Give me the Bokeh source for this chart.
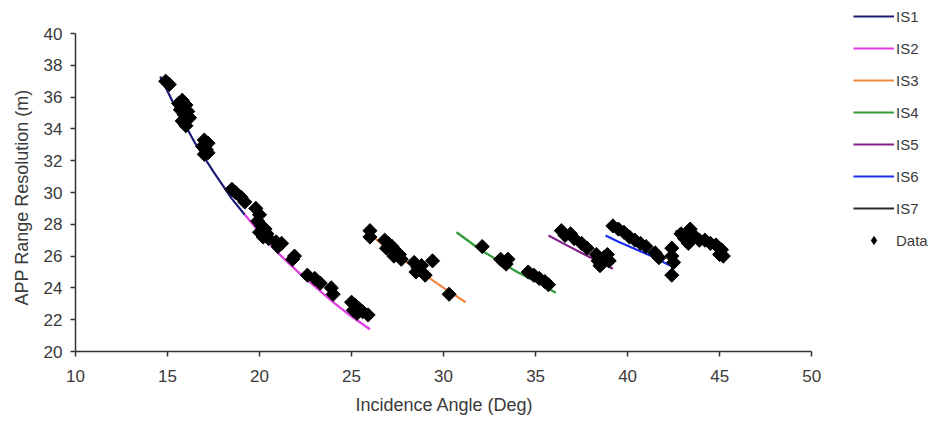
from bokeh.plotting import figure
from bokeh.models import ColumnDataSource, Legend, LegendItem, FixedTicker, Range1d, Title
from bokeh.embed import file_html
from bokeh.resources import INLINE

# ---- fitted curves per imaging swath ----
is1_x = [14.6, 15.5, 16.5, 17.5, 18.5, 19.2]
is1_y = [37.3, 35.2, 33.1, 31.3, 29.6, 28.6]
is2_x = [19.2, 20.0, 21.0, 22.0, 23.0, 24.0, 25.0, 26.0]
is2_y = [28.6, 27.5, 26.2, 25.1, 24.1, 23.1, 22.2, 21.4]
is3_x = [26.0, 27.0, 28.0, 29.0, 30.0, 31.2]
is3_y = [27.4, 26.4, 25.6, 24.8, 24.0, 23.1]
is4_x = [30.7, 32.0, 33.0, 34.0, 35.0, 36.1]
is4_y = [27.5, 26.4, 25.7, 25.0, 24.4, 23.7]
is5_x = [35.7, 36.5, 37.5, 38.5, 39.2]
is5_y = [27.3, 26.8, 26.2, 25.6, 25.2]
is6_x = [38.8, 39.5, 40.5, 41.5, 42.3]
is6_y = [27.3, 26.9, 26.4, 25.9, 25.4]
is7_x = [42.6, 43.5, 44.5, 45.3]
is7_y = [27.6, 27.1, 26.7, 26.3]

# ---- measured data ----
data_x = [14.9, 15.1,
          15.6, 15.8, 16.0, 15.7, 16.1, 15.9, 16.2, 15.8, 16.0, 15.9,
          17.0, 17.2, 16.9, 17.1, 17.0, 17.2,
          18.5, 18.7, 19.0, 19.2,
          19.8, 20.0, 19.9, 20.1, 20.0, 20.3, 20.2, 20.5, 20.4, 20.9, 21.2, 21.0,
          21.9, 21.8, 22.6, 23.0, 23.3, 23.9, 24.0, 25.0, 25.2, 25.4, 25.6, 25.9, 25.3, 25.1,
          26.0, 26.0, 26.8, 27.0, 26.9, 27.2, 27.4, 27.3, 27.6, 27.7, 28.4, 28.6, 28.5, 28.8,
          29.0, 29.4, 30.3,
          32.1, 33.1, 33.3, 33.5, 33.4, 34.6, 34.9, 35.2, 35.5, 35.7,
          36.4, 36.6, 36.9, 37.1, 37.5, 37.8, 38.3, 38.4, 38.7, 39.0, 38.5, 38.9,
          39.2, 39.5, 39.8, 40.1, 40.4, 40.7, 41.0, 41.5, 41.7, 42.4, 42.4, 42.5, 42.4,
          42.9, 43.1, 43.4, 43.3, 43.6, 43.9, 44.2, 44.5, 44.8, 45.1, 45.0, 45.2]
data_y = [37.0, 36.8,
          35.6, 35.8, 35.5, 35.2, 35.1, 34.9, 34.7, 34.5, 34.2, 34.4,
          33.3, 33.1, 32.9, 32.7, 32.4, 32.5,
          30.2, 30.0, 29.7, 29.4,
          29.0, 28.6, 28.2, 27.9, 27.5, 27.7, 27.2, 27.1, 27.4, 26.9, 26.8, 26.6,
          26.0, 25.8, 24.8, 24.6, 24.3, 24.0, 23.6, 23.1, 22.9, 22.7, 22.5, 22.3, 22.4, 22.6,
          27.6, 27.2, 27.0, 26.8, 26.5, 26.6, 26.3, 26.0, 26.1, 25.8, 25.6, 25.3, 25.0, 25.4,
          24.8, 25.7, 23.6,
          26.6, 25.8, 25.6, 25.8, 25.5, 25.0, 24.8, 24.6, 24.4, 24.2,
          27.6, 27.3, 27.4, 27.1, 26.8, 26.5, 26.1, 25.7, 25.9, 25.7, 25.4, 26.1,
          27.9, 27.7, 27.5, 27.2, 27.0, 26.8, 26.6, 26.2, 25.9, 26.5, 26.0, 25.6, 24.8,
          27.4, 27.1, 27.7, 26.8, 27.3, 27.0, 27.0, 26.8, 26.7, 26.4, 26.1, 26.0]

x_ticks = [10, 15, 20, 25, 30, 35, 40, 45, 50]
y_ticks = [20, 22, 24, 26, 28, 30, 32, 34, 36, 38, 40]
x_bounds = (10, 50)
y_bounds = (20, 40)

series = [
    ("IS1", is1_x, is1_y, "#1c1c78"),
    ("IS2", is2_x, is2_y, "#e03ce0"),
    ("IS3", is3_x, is3_y, "#f3873f"),
    ("IS4", is4_x, is4_y, "#2f9a3a"),
    ("IS5", is5_x, is5_y, "#82208a"),
    ("IS6", is6_x, is6_y, "#1a2ef0"),
    ("IS7", is7_x, is7_y, "#2a2a2a"),
]

FONT = "Liberation Sans"
TXT = "#3a3a3a"

# Frame reaches the right and top edges so the legend is not clipped; the axes
# are bounded to the 10-50 / 20-40 data extents.
W, H = 938, 427
LEFT, BOTTOM = 74, 76
AX_RIGHT_PX, AX_TOP_PX = 811, 33
fw, fh = W - LEFT, H - BOTTOM
x_end = x_bounds[0] + (x_bounds[1] - x_bounds[0]) * fw / (AX_RIGHT_PX - LEFT)
y_end = y_bounds[0] + (y_bounds[1] - y_bounds[0]) * fh / (fh - AX_TOP_PX)

p = figure(width=W, height=H, output_backend="svg", toolbar_location=None,
           x_range=Range1d(x_bounds[0], x_end), y_range=Range1d(y_bounds[0], y_end),
           min_border_left=LEFT, min_border_right=0, min_border_top=0,
           min_border_bottom=BOTTOM)
p.outline_line_color = None
p.xgrid.grid_line_color = None
p.ygrid.grid_line_color = None
p.border_fill_color = "white"

items = []
for name, xs, ys, col in series:
    src = ColumnDataSource(dict(x=xs, y=ys))
    r = p.line("x", "y", source=src, line_color=col, line_width=2.2)
    items.append(LegendItem(label=name, renderers=[r]))

dsrc = ColumnDataSource(dict(x=data_x, y=data_y))
# diamond renderer supplies the legend symbol; the rotated squares cover it
dleg = p.scatter("x", "y", source=dsrc, marker="diamond", size=10,
                 fill_color="black", line_color="black")
p.scatter("x", "y", source=dsrc, marker="square", size=10, angle=0.785398,
          fill_color="black", line_color="black")
items.append(LegendItem(label="Data", renderers=[dleg]))

for ax in (p.xaxis[0], p.yaxis[0]):
    ax.axis_line_color = "#333333"
    ax.axis_line_width = 1.5
    ax.major_tick_line_color = "#333333"
    ax.major_tick_line_width = 1.5
    ax.major_tick_in = 0
    ax.major_tick_out = 5
    ax.minor_tick_line_color = None
    ax.major_label_text_font = FONT
    ax.major_label_text_font_size = "17px"
    ax.major_label_text_color = TXT

p.xaxis.bounds = x_bounds
p.yaxis.bounds = y_bounds
p.xaxis.ticker = FixedTicker(ticks=x_ticks)
p.yaxis.ticker = FixedTicker(ticks=y_ticks)
p.xaxis.major_label_standoff = 13
p.yaxis.major_label_standoff = 8

xtitle = Title(text="Incidence Angle (Deg)", align="left", offset=280,
               vertical_align="bottom", standoff=17,
               text_font=FONT, text_font_size="18px", text_font_style="normal",
               text_color=TXT)
p.add_layout(xtitle, "below")

ytitle = Title(text="APP Range Resolution (m)", align="left", offset=46,
               vertical_align="bottom", standoff=18,
               text_font=FONT, text_font_size="18px", text_font_style="normal",
               text_color=TXT)
p.add_layout(ytitle, "left")

legend = Legend(items=items, location=(778, 101), orientation="vertical",
                glyph_width=41, glyph_height=20, label_height=20, spacing=12,
                label_standoff=2, padding=0, margin=0,
                border_line_color=None, background_fill_alpha=0,
                label_text_font=FONT, label_text_font_size="15px",
                label_text_color=TXT)
p.add_layout(legend, "center")

open("out.html", "w").write(file_html(p, INLINE))
